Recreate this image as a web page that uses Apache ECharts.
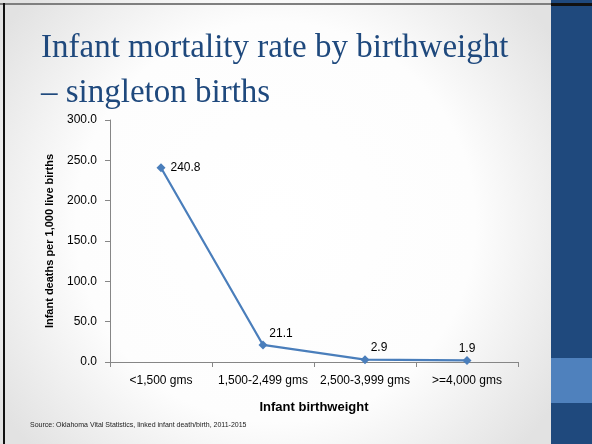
<!DOCTYPE html>
<html>
<head>
<meta charset="utf-8">
<script src="https://cdn.jsdelivr.net/npm/echarts@6/dist/echarts.min.js"></script>
<style>
  html, body { margin: 0; padding: 0; background: #fff; }
  #chart { width: 592px; height: 444px; }
</style>
</head>
<body>
<div id="chart"></div>
<script>
// chart data
const categories = ['<1,500 gms', '1,500-2,499 gms', '2,500-3,999 gms', '>=4,000 gms'];
const rates = [240.8, 21.1, 2.9, 1.9];
// label nudges per point [dx, dy]
const labelPos = ['right', 'top', 'top', 'top'];
const labelShift = [[0, 0], [18, 4], [14, 4], [0, 4]];

const yTicks = { min: 0, max: 300, interval: 50 };

let myChart = echarts.init(document.getElementById('chart'), null, { renderer: 'canvas' });

myChart.setOption({
  backgroundColor: 'transparent',
  // slide decorations
  graphic: [
    {
      type: 'rect', z: -10, silent: true,
      shape: { x: 0, y: 0, width: 551, height: 444 },
      style: {
        fill: new echarts.graphic.RadialGradient(0.5, 0.5, 0.75, [
          { offset: 0, color: '#ffffff' },
          { offset: 0.6, color: '#fdfdfd' },
          { offset: 1, color: '#e2e2e2' }
        ])
      }
    },
    { type: 'rect', z: -9, silent: true, shape: { x: 551, y: 0, width: 41, height: 444 }, style: { fill: '#1f497d' } },
    { type: 'rect', z: -8, silent: true, shape: { x: 551, y: 358, width: 41, height: 45 }, style: { fill: '#4f81bd' } },
    { type: 'rect', z: -8, silent: true, shape: { x: 0, y: 3, width: 551, height: 2 }, style: { fill: '#7f7f7f' } },
    { type: 'rect', z: -8, silent: true, shape: { x: 551, y: 3, width: 41, height: 3 }, style: { fill: '#111' } },
    { type: 'rect', z: -8, silent: true, shape: { x: 3, y: 3, width: 2, height: 441 }, style: { fill: '#111' } },
    {
      type: 'text', left: 41, top: 26,
      style: {
        text: 'Infant mortality rate by birthweight\n– singleton births',
        fill: '#1f497d',
        font: '33px "Liberation Serif", serif',
        lineHeight: 45
      }
    },
    {
      type: 'text', left: 30, top: 422,
      style: {
        text: 'Source: Oklahoma Vital Statistics, linked infant death/birth, 2011-2015',
        fill: '#222',
        font: '7px "Liberation Sans", Arial, sans-serif'
      }
    }
  ],
  grid: { left: 110, right: 74, top: 120, bottom: 82 },
  xAxis: {
    type: 'category',
    data: categories,
    boundaryGap: true,
    name: 'Infant birthweight',
    nameLocation: 'middle',
    nameGap: 39,
    nameTextStyle: { fontFamily: 'Liberation Sans', fontWeight: 'bold', fontSize: 13, color: '#000' },
    axisLine: { lineStyle: { color: '#868686', width: 1 } },
    axisTick: { show: true, length: 5, interval: 0, lineStyle: { color: '#868686' } },
    axisLabel: { color: '#000', fontFamily: 'Liberation Sans', fontSize: 12, margin: 13, interval: 0 }
  },
  yAxis: {
    type: 'value',
    min: yTicks.min,
    max: yTicks.max,
    interval: yTicks.interval,
    name: 'Infant deaths per 1,000 live births',
    nameLocation: 'middle',
    nameGap: 55,
    nameTextStyle: { fontFamily: 'Liberation Sans', fontWeight: 'bold', fontSize: 11, color: '#000' },
    axisLine: { show: true, lineStyle: { color: '#868686', width: 1 } },
    axisTick: { show: true, length: 5, lineStyle: { color: '#868686' } },
    splitLine: { show: false },
    axisLabel: {
      color: '#000', fontFamily: 'Liberation Sans', fontSize: 12, margin: 13,
      formatter: v => v.toFixed(1)
    }
  },
  series: [{
    type: 'line',
    data: rates.map((v, i) => ({
      value: v,
      label: { position: labelPos[i], offset: labelShift[i] }
    })),
    symbol: 'diamond',
    symbolSize: 9,
    showAllSymbol: true,
    lineStyle: { color: '#4a7ebb', width: 2.25 },
    itemStyle: { color: '#4a7ebb' },
    label: {
      show: true,
      color: '#000',
      fontFamily: 'Liberation Sans',
      fontSize: 12,
      formatter: p => p.value.toFixed(1)
    },
    animation: false
  }],
  animation: false
});
</script>
</body>
</html>
